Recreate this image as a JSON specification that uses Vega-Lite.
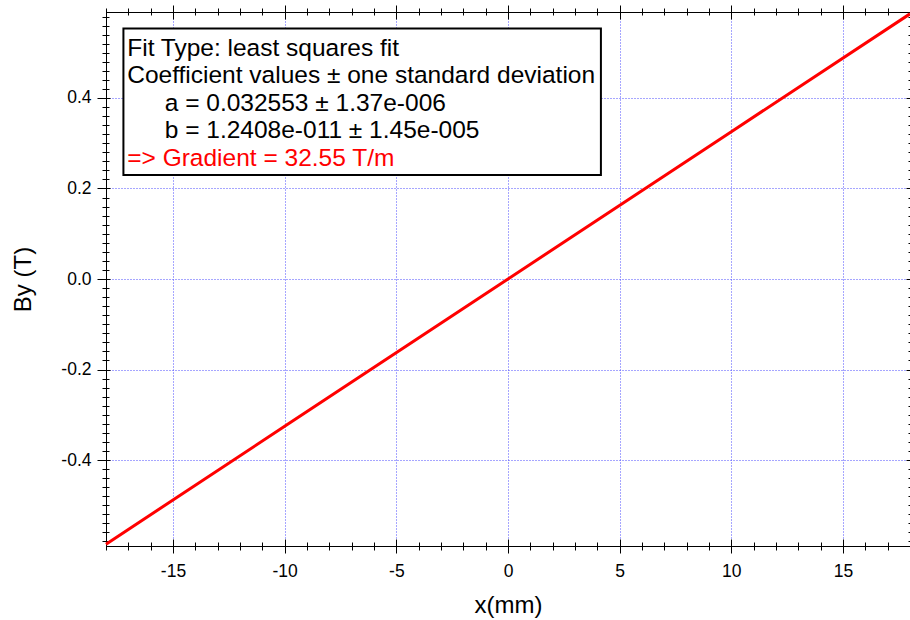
{
  "$schema": "https://vega.github.io/schema/vega-lite/v6.json",
  "width": 804,
  "height": 534,
  "autosize": {"type": "none"},
  "padding": {"left": 106, "top": 12, "right": 0, "bottom": 74},
  "background": "white",
  "config": {
    "view": {"stroke": "#000000", "strokeWidth": 1, "fill": "white"},
    "font": "Liberation Sans",
    "locale": {"number": {"decimal": ".", "thousands": ",", "grouping": [3], "currency": ["$", ""], "minus": "-"}},
    "axis": {"tickColor": "#000000", "labelColor": "#000000", "titleColor": "#000000", "domain": false, "grid": false, "labelFont": "Liberation Sans", "titleFont": "Liberation Sans", "titleFontWeight": "normal", "tickWidth": 1}
  },
  "datasets": {
    "fit": [
      {"x": -18, "y": -0.58595},
      {"x": -10, "y": -0.32553},
      {"x": 0, "y": 0},
      {"x": 10, "y": 0.32553},
      {"x": 18, "y": 0.58595}
    ]
  },
  "data": {"name": "fit"},
  "resolve": {"axis": {"x": "independent", "y": "independent"}},
  "layer": [
    {
      "mark": {"type": "line", "opacity": 0},
      "encoding": {
        "x": {"field": "x", "type": "quantitative", "scale": {"domain": [-18, 18], "nice": false, "zero": false},
          "axis": {"orient": "bottom", "offset": 0, "ticks": false, "labels": false, "title": null, "grid": true, "gridColor": "#4c4cff", "gridDash": [1, 2], "gridWidth": 1, "gridOpacity": 1, "values": [-15, -10, -5, 0, 5, 10, 15]}},
        "y": {"field": "y", "type": "quantitative", "scale": {"domain": [-0.59, 0.59], "nice": false, "zero": false},
          "axis": {"orient": "left", "offset": 0, "ticks": false, "labels": false, "title": null, "grid": true, "gridColor": "#4c4cff", "gridDash": [1, 2], "gridWidth": 1, "gridOpacity": 1, "values": [-0.4, -0.2, 0, 0.2, 0.4]}}
      }
    },
    {
      "data": {"values": [{"x1": -17.22, "x2": 4.16, "y1": 0.2298, "y2": 0.5536}]},
      "mark": {"type": "rect", "fill": "white", "stroke": "#000000", "strokeWidth": 2},
      "encoding": {
        "x": {"field": "x1", "type": "quantitative", "axis": null, "scale": {"domain": [-18, 18], "nice": false, "zero": false}},
        "x2": {"field": "x2"},
        "y": {"field": "y1", "type": "quantitative", "axis": null, "scale": {"domain": [-0.59, 0.59], "nice": false, "zero": false}},
        "y2": {"field": "y2"}
      }
    },
    {
      "data": {"values": [
        {"label": "Fit Type: least squares fit", "tx": -17.05, "ty": 0.4928},
        {"label": "Coefficient values ± one standard deviation", "tx": -17.05, "ty": 0.4339},
        {"label": "a = 0.032553 ± 1.37e-006", "tx": -15.37, "ty": 0.3719},
        {"label": "b = 1.2408e-011 ± 1.45e-005", "tx": -15.37, "ty": 0.3109}
      ]},
      "mark": {"type": "text", "align": "left", "baseline": "alphabetic", "fontSize": 24.5, "font": "Liberation Sans", "color": "#000000"},
      "encoding": {
        "x": {"field": "tx", "type": "quantitative", "axis": null, "scale": {"domain": [-18, 18], "nice": false, "zero": false}},
        "y": {"field": "ty", "type": "quantitative", "axis": null, "scale": {"domain": [-0.59, 0.59], "nice": false, "zero": false}},
        "text": {"field": "label"}
      }
    },
    {
      "data": {"values": [
        {"label": "=> Gradient = 32.55 T/m", "tx": -17.05, "ty": 0.2504}
      ]},
      "mark": {"type": "text", "align": "left", "baseline": "alphabetic", "fontSize": 24.5, "font": "Liberation Sans", "color": "#ff0000"},
      "encoding": {
        "x": {"field": "tx", "type": "quantitative", "axis": null, "scale": {"domain": [-18, 18], "nice": false, "zero": false}},
        "y": {"field": "ty", "type": "quantitative", "axis": null, "scale": {"domain": [-0.59, 0.59], "nice": false, "zero": false}},
        "text": {"field": "label"}
      }
    },
    {
      "mark": {"type": "line", "color": "#ff0000", "strokeWidth": 3},
      "encoding": {
        "x": {"field": "x", "type": "quantitative", "scale": {"domain": [-18, 18], "nice": false, "zero": false},
          "axis": {"orient": "bottom", "offset": -7, "tickSize": 14, "values": [-15, -10, -5, 0, 5, 10, 15], "labelFontSize": 17.5, "labelPadding": 9, "labelFlush": false, "title": "x(mm)", "titleFontSize": 24, "titlePadding": 14}},
        "y": {"field": "y", "type": "quantitative", "scale": {"domain": [-0.59, 0.59], "nice": false, "zero": false},
          "axis": {"orient": "left", "offset": -4, "tickSize": 13, "values": [-0.4, -0.2, 0, 0.2, 0.4], "format": ".1f", "labelFontSize": 17.5, "labelPadding": 6, "labelFlush": false, "title": "By (T)", "titleFontSize": 24, "titlePadding": 25}}
      }
    },
    {
      "mark": {"type": "line", "opacity": 0},
      "encoding": {
        "x": {"field": "x", "type": "quantitative", "scale": {"domain": [-18, 18], "nice": false, "zero": false},
          "axis": {"orient": "bottom", "offset": -4, "tickSize": 8, "labels": false, "title": null, "values": [-18, -17, -16, -15, -14, -13, -12, -11, -10, -9, -8, -7, -6, -5, -4, -3, -2, -1, 0, 1, 2, 3, 4, 5, 6, 7, 8, 9, 10, 11, 12, 13, 14, 15, 16, 17, 18]}},
        "y": {"field": "y", "type": "quantitative", "scale": {"domain": [-0.59, 0.59], "nice": false, "zero": false},
          "axis": {"orient": "left", "offset": -3, "tickSize": 7, "labels": false, "title": null, "values": [-0.58, -0.56, -0.54, -0.52, -0.5, -0.48, -0.46, -0.44, -0.42, -0.4, -0.38, -0.36, -0.34, -0.32, -0.3, -0.28, -0.26, -0.24, -0.22, -0.2, -0.18, -0.16, -0.14, -0.12, -0.1, -0.08, -0.06, -0.04, -0.02, 0, 0.02, 0.04, 0.06, 0.08, 0.1, 0.12, 0.14, 0.16, 0.18, 0.2, 0.22, 0.24, 0.26, 0.28, 0.3, 0.32, 0.34, 0.36, 0.38, 0.4, 0.42, 0.44, 0.46, 0.48, 0.5, 0.52, 0.54, 0.56, 0.58]}}
      }
    },
    {
      "mark": {"type": "line", "opacity": 0},
      "encoding": {
        "x": {"field": "x", "type": "quantitative", "scale": {"domain": [-18, 18], "nice": false, "zero": false},
          "axis": {"orient": "top", "offset": -7, "tickSize": 14, "labels": false, "title": null, "values": [-15, -10, -5, 0, 5, 10, 15]}},
        "y": {"field": "y", "type": "quantitative", "scale": {"domain": [-0.59, 0.59], "nice": false, "zero": false},
          "axis": {"orient": "right", "offset": -4, "tickSize": 8, "labels": false, "title": null, "values": [-0.4, -0.2, 0, 0.2, 0.4]}}
      }
    },
    {
      "mark": {"type": "line", "opacity": 0},
      "encoding": {
        "x": {"field": "x", "type": "quantitative", "scale": {"domain": [-18, 18], "nice": false, "zero": false},
          "axis": {"orient": "top", "offset": -3, "tickSize": 7, "labels": false, "title": null, "values": [-18, -17, -16, -15, -14, -13, -12, -11, -10, -9, -8, -7, -6, -5, -4, -3, -2, -1, 0, 1, 2, 3, 4, 5, 6, 7, 8, 9, 10, 11, 12, 13, 14, 15, 16, 17, 18]}},
        "y": {"field": "y", "type": "quantitative", "scale": {"domain": [-0.59, 0.59], "nice": false, "zero": false},
          "axis": {"orient": "right", "offset": -2, "tickSize": 4, "labels": false, "title": null, "values": [-0.58, -0.56, -0.54, -0.52, -0.5, -0.48, -0.46, -0.44, -0.42, -0.4, -0.38, -0.36, -0.34, -0.32, -0.3, -0.28, -0.26, -0.24, -0.22, -0.2, -0.18, -0.16, -0.14, -0.12, -0.1, -0.08, -0.06, -0.04, -0.02, 0, 0.02, 0.04, 0.06, 0.08, 0.1, 0.12, 0.14, 0.16, 0.18, 0.2, 0.22, 0.24, 0.26, 0.28, 0.3, 0.32, 0.34, 0.36, 0.38, 0.4, 0.42, 0.44, 0.46, 0.48, 0.5, 0.52, 0.54, 0.56, 0.58]}}
      }
    }
  ]
}
